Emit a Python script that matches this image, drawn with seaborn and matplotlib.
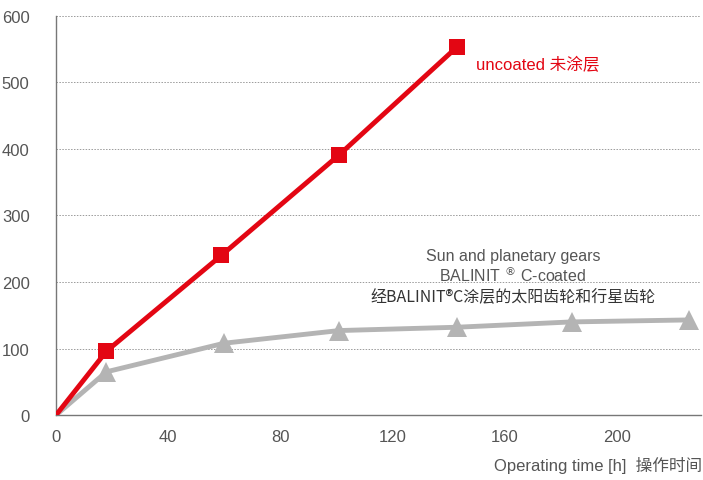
import matplotlib
matplotlib.use("Agg")
import matplotlib.pyplot as plt
import seaborn as sns
import pandas as pd

# data
hours_uncoated = [0, 18, 59, 101, 143]
wear_uncoated = [0, 96, 240, 391, 553]

hours_coated = [0, 18, 60, 101, 143, 184, 226]
wear_coated = [0, 65, 108, 127, 132, 140, 143]

x_ticks = [0, 40, 80, 120, 160, 200]
y_ticks = [0, 100, 200, 300, 400, 500, 600]

RED = "#e30613"
GREY = "#b4b4b4"
TEXT = "#555555"

sns.set_style("white")
plt.rcParams["font.family"] = ["Liberation Sans", "Noto Sans CJK SC", "DejaVu Sans"]

fig = plt.figure(figsize=(7.03, 4.81), dpi=100)
ax = fig.add_axes([0.0797, 0.135, 0.917, 0.830])

df_c = pd.DataFrame({"h": hours_coated, "w": wear_coated})
df_u = pd.DataFrame({"h": hours_uncoated, "w": wear_uncoated})

sns.lineplot(data=df_c, x="h", y="w", ax=ax, color=GREY, linewidth=3.5,
             marker="^", markersize=15, markeredgewidth=0, zorder=3)
# no marker on the origin point
ax.lines[-1].set_markevery(list(range(1, len(hours_coated))))
sns.lineplot(data=df_u, x="h", y="w", ax=ax, color=RED, linewidth=3.5,
             marker="s", markersize=11, markeredgewidth=0, zorder=4)
ax.lines[-1].set_markevery(list(range(1, len(hours_uncoated))))

ax.set_xlim(0, 230)
ax.set_ylim(0, 600)
ax.set_xticks(x_ticks)
ax.set_yticks(y_ticks)
ax.set_xlabel("")
ax.set_ylabel("")

for y in y_ticks[1:]:
    ax.axhline(y, color="#9a9a9a", linestyle=(0, (1.5, 1.5)), linewidth=0.7, zorder=1)

for s in ["top", "right"]:
    ax.spines[s].set_visible(False)
for s in ["left", "bottom"]:
    ax.spines[s].set_color("#777777")
    ax.spines[s].set_linewidth(1.0)

ax.tick_params(axis="x", direction="in", length=7, width=0.8, color="#777777",
               labelsize=12, labelcolor=TEXT, pad=10)
ax.tick_params(axis="y", length=0, labelsize=12, labelcolor=TEXT, pad=19)

ax.text(150, 528, "uncoated 未涂层", color=RED, fontsize=12, va="center", ha="left")
ax.text(163, 240, "Sun and planetary gears", color=TEXT, fontsize=11.5, ha="center", va="center")
ax.text(163, 212, "BALINIT $^{®}$ C-coated", color=TEXT, fontsize=11.5, ha="center", va="center")
ax.text(163, 178, "经BALINIT®C涂层的太阳齿轮和行星齿轮", color="#333333", fontsize=11.5,
        ha="center", va="center", family=["Noto Sans CJK SC", "DejaVu Sans"])

fig.text(0.999, 0.015, "Operating time [h]  操作时间", color=TEXT, fontsize=12,
         ha="right", va="bottom")

fig.savefig("out.png", dpi=100)
